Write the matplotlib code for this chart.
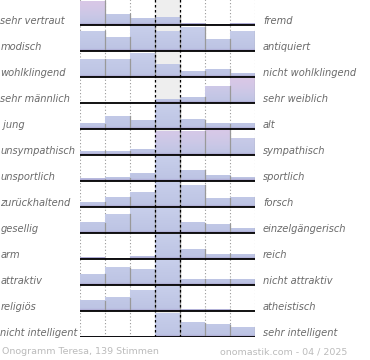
import numpy as np
import matplotlib
matplotlib.use("Agg")
import matplotlib.pyplot as plt
from matplotlib.colors import to_rgb
from matplotlib.transforms import blended_transform_factory

# Onogramm: Polaritaetsprofil, 7 Stufen pro Eigenschaftspaar
links = ["sehr vertraut", "modisch", "wohlklingend", "sehr männlich", " jung",
         "unsympathisch", "unsportlich", "zurückhaltend", "gesellig", "arm",
         "attraktiv", "religiös", "nicht intelligent"]
rechts = ["fremd", "antiquiert", "nicht wohlklingend", "sehr weiblich", "alt",
          "sympathisch", "sportlich", "forsch", "einzelgängerisch", "reich",
          "nicht attraktiv", "atheistisch", "sehr intelligent"]

werte = [
    [24, 11, 7, 8, 1.5, 1, 1.5],
    [20, 14, 25, 20, 24, 12, 20],
    [18, 18, 24, 13, 6, 8, 4],
    [0, 0, 0.5, 4, 6, 17, 25],
    [5.5, 13, 8.5, 25, 9.5, 5.5, 6],
    [4, 4, 5.5, 23.5, 24, 25, 17],
    [2.3, 3.5, 7.3, 25, 10.7, 5.3, 3.3],
    [5, 10, 15, 25, 22, 9, 10],
    [10.5, 19, 25, 25, 10.5, 9, 5],
    [1.5, 1, 2.6, 25, 10, 5, 5],
    [10.7, 17.3, 15.7, 25, 6, 6, 6],
    [10.3, 13.3, 21, 25, 1.7, 1.7, 0],
    [0.5, 0.5, 0.5, 24, 14.3, 12.3, 9.7],
]

# rosa Toenung einzelner Balken (Zeile, Spalte, Staerke)
rosa = [(0, 0, 0.9), (3, 5, 0.6), (3, 6, 0.9),
        (5, 3, 0.7), (5, 4, 0.7), (5, 5, 0.8), (5, 6, 0.25)]

titel = "Onogramm Teresa, 139 Stimmen"
quelle = "onomastik.com - 04 / 2025"

W, H = 370, 360
ZEILE = 26.0  # px pro Zeile

fig = plt.figure(figsize=(W / 100, H / 100), dpi=100)
ax = fig.add_axes([80 / W, 23 / H, 175 / W, 338 / H])
n = len(links)
ax.set_xlim(0, 7)
ax.set_ylim(n, 0)
ax.axis("off")

ax.axvspan(3, 4, color="#eeeeee", zorder=0)
for x in [0, 1, 2, 5, 6, 7]:
    ax.axvline(x, color="#999999", lw=0.8, ls=(0, (1, 2)), zorder=1)
for x in [3, 4]:
    ax.axvline(x, color="black", lw=0.9, ls=(0, (2, 2)), zorder=5)

blau_unten = np.array(to_rgb("#bcc3e3"))
blau_oben = np.array(to_rgb("#c8cfeb"))
lila = np.array(to_rgb("#a498c8"))
pink = np.array(to_rgb("#dcc6e6"))
tint = {(r, c): s for r, c, s in rosa}

for i, zeile in enumerate(werte):
    basis = i + 1
    for j, h in enumerate(zeile):
        if h <= 0:
            continue
        npx = max(int(np.ceil(h * 3)), 1)
        d = (np.arange(npx)[::-1] + 0.5) / 3.0  # Abstand von unten in px
        s = tint.get((i, j), 0.0)
        f = (d / 25.0)[:, None]
        col = blau_unten * (1 - f) + blau_oben * f
        col = col * (1 - s * f) + pink * (s * f)
        dunkel = np.clip(1 - d / 2.5, 0, 1)[:, None]
        col = col * (1 - dunkel) + lila * dunkel
        img = col[:, None, :]
        oben = basis - h / ZEILE
        ax.imshow(img, extent=(j, j + 1, basis, oben), aspect="auto",
                  origin="upper", interpolation="bilinear", zorder=2)
        ax.plot([j + 1, j + 1], [basis, oben], color="#999999", lw=0.9, zorder=3)
    ax.hlines(basis, 0, 7, color="black", lw=1.3, zorder=6)

trans = blended_transform_factory(fig.transFigure, ax.transData)
for i in range(n):
    y = i + 1 - 4.3 / ZEILE
    ax.text(0.5 / W, y, links[i], transform=trans, ha="left", va="center",
            fontsize=7.1, style="italic", color="#6a6a6a")
    ax.text(263 / W, y, rechts[i], transform=trans, ha="left", va="center",
            fontsize=7.1, style="italic", color="#6a6a6a")

fig.text(2 / W, 1 - 352 / H, titel, ha="left", va="center",
         fontsize=6.8, color="#bbbbbb")
fig.text(347 / W, 1 - 352 / H, quelle, ha="right", va="center",
         fontsize=6.8, color="#bbbbbb")

fig.savefig("out.png", dpi=100)
